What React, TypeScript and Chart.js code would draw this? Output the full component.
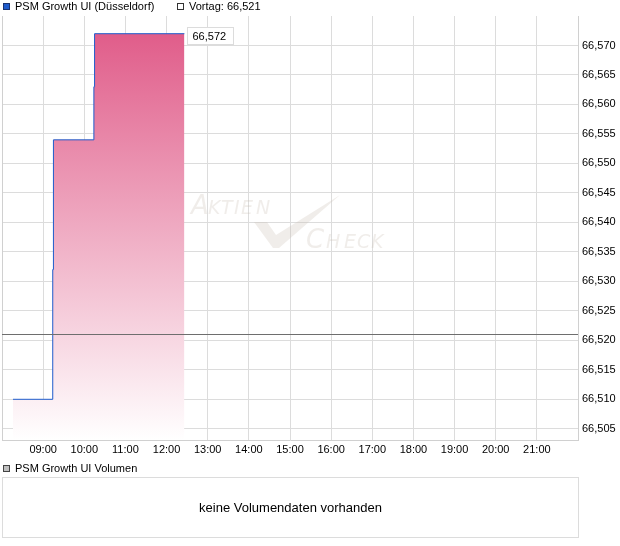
import React, { useEffect, useRef } from 'react';
import { Chart, registerables } from 'chart.js';

Chart.register(...registerables);

// ---- data ----
const seriesName = 'PSM Growth UI (Düsseldorf)';
const previousLabel = 'Vortag: 66,521';
const volumeName = 'PSM Growth UI Volumen';
const noVolumeText = 'keine Volumendaten vorhanden';
const previousClose = 66.521;
const times = ['08:16', '09:14', '09:15', '10:14', '10:15', '12:26'];
const prices = [66.51, 66.532, 66.554, 66.563, 66.572, 66.572];
const xTickHours = [9, 10, 11, 12, 13, 14, 15, 16, 17, 18, 19, 20, 21];
const xTickLabels = ['09:00', '10:00', '11:00', '12:00', '13:00', '14:00', '15:00', '16:00', '17:00', '18:00', '19:00', '20:00', '21:00'];
const yTicks = [66.505, 66.51, 66.515, 66.52, 66.525, 66.53, 66.535, 66.54, 66.545, 66.55, 66.555, 66.56, 66.565, 66.57];
const xMin = 8;
const xMax = 22;
const yMin = 66.5031;
const yMax = 66.575;

const FONT = "'Liberation Sans', Arial, sans-serif";
const WM_FONT = "'DejaVu Sans', sans-serif";
const fmt = (v: number) => v.toFixed(3).replace('.', ',');
const toHours = (t: string) => {
  const [h, m] = t.split(':').map(Number);
  return h + m / 60;
};

// watermark letters: [char, x, size, row]
const wmLetters: [string, number, number, number][] = [
  ['A', 191, 26, 0], ['K', 208, 19, 0], ['T', 221, 19, 0], ['I', 234, 19, 0], ['E', 241, 19, 0], ['N', 256, 19, 0],
  ['C', 306, 26, 1], ['H', 326, 19, 1], ['E', 344, 19, 1], ['C', 357, 19, 1], ['K', 371, 19, 1],
];

const framePlugin = {
  id: 'frame',
  beforeDatasetsDraw(chart: any) {
    const { ctx, chartArea: a } = chart;
    ctx.save();
    // left border
    ctx.strokeStyle = '#d0d0d0';
    ctx.lineWidth = 1;
    ctx.beginPath();
    ctx.moveTo(a.left + 0.5, a.top);
    ctx.lineTo(a.left + 0.5, a.bottom);
    ctx.stroke();
    // watermark
    const cx = (a.left + a.right) / 2;
    const cy = (a.top + a.bottom) / 2;
    const ox = cx - 290;
    const oy = cy - 228;
    ctx.fillStyle = 'rgba(205,195,185,0.3)';
    ctx.textBaseline = 'alphabetic';
    ctx.textAlign = 'left';
    for (const [ch, x, size, row] of wmLetters) {
      ctx.font = `oblique ${size}px ${WM_FONT}`;
      ctx.fillText(ch, ox + x, oy + (row === 0 ? 214 : 248));
    }
    ctx.beginPath();
    ctx.moveTo(ox + 254, oy + 222);
    ctx.lineTo(ox + 267, oy + 222);
    ctx.lineTo(ox + 276, oy + 235);
    ctx.lineTo(ox + 340, oy + 195);
    ctx.lineTo(ox + 279, oy + 248);
    ctx.lineTo(ox + 273, oy + 248);
    ctx.closePath();
    ctx.fill();
    ctx.restore();
  },
  afterDatasetsDraw(chart: any) {
    const { ctx, chartArea: a, scales } = chart;
    ctx.save();
    // previous close line
    const yp = Math.round(scales.y.getPixelForValue(previousClose)) + 0.5;
    ctx.strokeStyle = '#6e6e6e';
    ctx.lineWidth = 1;
    ctx.beginPath();
    ctx.moveTo(a.left, yp);
    ctx.lineTo(a.right, yp);
    ctx.stroke();
    // last value box
    const meta = chart.getDatasetMeta(0);
    const last = meta.data[meta.data.length - 1];
    const bx = Math.round(last.x) + 3.5;
    const by = Math.round(last.y) - 6.5;
    ctx.fillStyle = '#ffffff';
    ctx.strokeStyle = '#dcdcdc';
    ctx.fillRect(bx, by, 46, 17);
    ctx.strokeRect(bx, by, 46, 17);
    ctx.fillStyle = '#000000';
    ctx.font = `11px ${FONT}`;
    ctx.textBaseline = 'middle';
    ctx.textAlign = 'left';
    ctx.fillText(fmt(prices[prices.length - 1]), bx + 5, by + 9);
    ctx.restore();
  },
};

export default function App() {
  const ref = useRef<HTMLCanvasElement>(null);

  useEffect(() => {
    if (!ref.current) return;
    const chart = new Chart(ref.current, {
      type: 'line',
      data: {
        datasets: [
          {
            label: seriesName,
            data: times.map((t, i) => ({ x: toHours(t), y: prices[i] })),
            stepped: 'before',
            borderColor: '#1f5ccc',
            borderWidth: 1,
            pointRadius: 0,
            fill: 'start',
            backgroundColor: (c: any) => {
              const { chart: ch } = c;
              const area = ch.chartArea;
              if (!area) return 'rgba(224,88,134,0.5)';
              const g = ch.ctx.createLinearGradient(0, area.top, 0, area.bottom);
              g.addColorStop(0, 'rgb(223,86,133)');
              g.addColorStop(1, 'rgb(255,255,255)');
              return g;
            },
          },
        ],
      },
      options: {
        animation: false,
        responsive: false,
        devicePixelRatio: 1,
        layout: { padding: { left: 2, top: 16, right: 0, bottom: 86 } },
        plugins: { legend: { display: false }, tooltip: { enabled: false } },
        scales: {
          x: {
            type: 'linear',
            min: xMin,
            max: xMax,
            afterBuildTicks: (s: any) => {
              s.ticks = xTickHours.map((v) => ({ value: v }));
            },
            afterFit: (s: any) => {
              s.height = 20;
            },
            ticks: {
              autoSkip: false,
              maxRotation: 0,
              padding: 3,
              color: '#000',
              font: { family: FONT, size: 11 },
              callback: (_v: any, i: number) => xTickLabels[i],
            },
            grid: { color: '#dcdcdc', drawTicks: false },
            border: { color: '#d0d0d0' },
          },
          y: {
            type: 'linear',
            position: 'right',
            min: yMin,
            max: yMax,
            afterBuildTicks: (s: any) => {
              s.ticks = yTicks.map((v) => ({ value: v }));
            },
            afterFit: (s: any) => {
              s.width = 42;
            },
            ticks: {
              padding: 4,
              color: '#000',
              font: { family: FONT, size: 11 },
              callback: (v: any) => fmt(Number(v)),
            },
            grid: { color: '#dcdcdc', drawTicks: false },
            border: { color: '#d0d0d0' },
          },
        },
      },
      plugins: [framePlugin],
    } as any);
    return () => chart.destroy();
  }, []);

  const text: React.CSSProperties = {
    position: 'absolute',
    font: `11px ${FONT}`,
    lineHeight: '13px',
    color: '#000',
    whiteSpace: 'nowrap',
  };
  const sq = (left: number, top: number, bg: string, bd: string): React.CSSProperties => ({
    position: 'absolute',
    left,
    top,
    width: 5,
    height: 5,
    background: bg,
    border: `1px solid ${bd}`,
  });

  return (
    <div style={{ position: 'absolute', left: 0, top: 0, width: 620, height: 546, background: '#fff', overflow: 'hidden' }}>
      <canvas ref={ref} width={620} height={546} style={{ position: 'absolute', left: 0, top: 0, width: 620, height: 546 }} />
      <div style={sq(3, 3, '#1f5ccc', '#1a3370')} />
      <div style={{ ...text, left: 15, top: 0 }}>{seriesName}</div>
      <div style={sq(177, 3, '#ffffff', '#333')} />
      <div style={{ ...text, left: 189, top: 0 }}>{previousLabel}</div>
      <div style={sq(3, 465, '#c0c0c0', '#444')} />
      <div style={{ ...text, left: 15, top: 462 }}>{volumeName}</div>
      <div
        style={{
          position: 'absolute',
          left: 2,
          top: 477,
          width: 575,
          height: 59,
          border: '1px solid #dcdcdc',
          display: 'flex',
          alignItems: 'center',
          justifyContent: 'center',
          font: `13px ${FONT}`,
          color: '#000',
        }}
      >
        {noVolumeText}
      </div>
    </div>
  );
}
